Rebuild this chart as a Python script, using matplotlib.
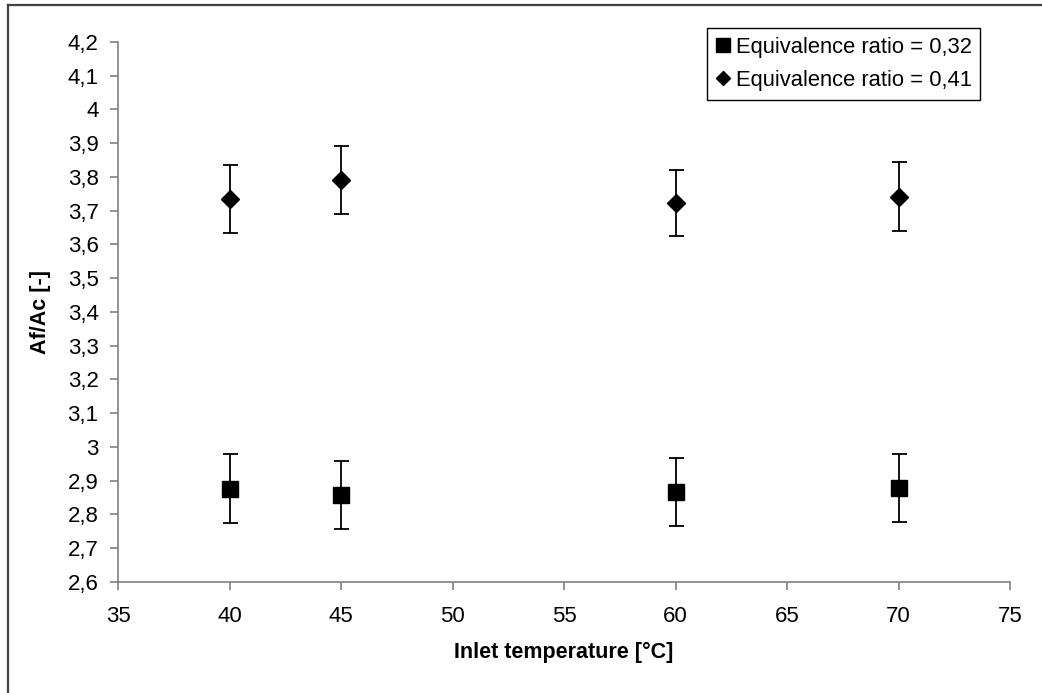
import numpy as np
import matplotlib
matplotlib.use('Agg')
import matplotlib.pyplot as plt
import matplotlib.ticker as mticker
from matplotlib.lines import Line2D

plt.rcParams['font.family'] = ['Liberation Sans', 'DejaVu Sans']

# data
temps = [40, 45, 60, 70]
ratio_032 = [2.877, 2.857, 2.866, 2.878]
err_032 = [0.101, 0.101, 0.101, 0.101]
ratio_041 = [3.735, 3.790, 3.723, 3.742]
err_041 = [0.101, 0.101, 0.099, 0.101]
labels = ['Equivalence ratio = 0,32', 'Equivalence ratio = 0,41']

fig = plt.figure(figsize=(10.42, 6.93), dpi=100)
ax = fig.add_axes([118 / 1042, 1 - 582 / 693, (1010 - 118) / 1042, (582 - 42) / 693])

# outer frame (only top and left edges visible)
fig.add_artist(Line2D([8 / 1042, 8 / 1042], [0, 1 - 5 / 693], transform=fig.transFigure,
                      color='#404040', lw=1.6))
fig.add_artist(Line2D([8 / 1042, 1], [1 - 5 / 693, 1 - 5 / 693], transform=fig.transFigure,
                      color='#404040', lw=1.6))

ax.errorbar(temps, ratio_032, yerr=err_032, fmt='none', ecolor='black',
            elinewidth=1.3, capsize=5.4, capthick=1.3)
ax.errorbar(temps, ratio_041, yerr=err_041, fmt='none', ecolor='black',
            elinewidth=1.3, capsize=5.4, capthick=1.3)
ax.plot(temps, ratio_032, 's', color='black', markersize=12, label=labels[0], zorder=3)
ax.plot(temps, ratio_041, 'D', color='black', markersize=9.5, label=labels[1], zorder=3)

ax.set_xlim(35, 75)
ax.set_ylim(2.6, 4.2)
ax.set_xticks(np.arange(35, 76, 5))
ax.set_yticks(np.arange(2.6, 4.2001, 0.1))
fmt = mticker.FuncFormatter(lambda v, p: f'{round(v, 1):g}'.replace('.', ','))
ax.xaxis.set_major_formatter(fmt)
ax.yaxis.set_major_formatter(fmt)

for s in ['top', 'right']:
    ax.spines[s].set_visible(False)
for s in ['left', 'bottom']:
    ax.spines[s].set_color('#808080')
    ax.spines[s].set_linewidth(1.2)

ax.tick_params(axis='both', direction='out', length=6, width=1.2, color='#808080',
               labelsize=16, labelcolor='black')
ax.tick_params(axis='y', pad=8)
ax.tick_params(axis='x', pad=11)

ax.set_xlabel('Inlet temperature [°C]', fontsize=15.5, fontweight='bold', labelpad=11)
ax.set_ylabel('Af/Ac [-]', fontsize=15.5, fontweight='bold', labelpad=12)

leg = ax.legend(loc='upper left', bbox_to_anchor=(707 / 1042, 1 - 28 / 693),
                bbox_transform=fig.transFigure, borderaxespad=0, fontsize=15.8,
                frameon=True, fancybox=False, shadow=False, framealpha=1,
                edgecolor='black', markerscale=0.8, handlelength=0.7,
                handletextpad=0.2, borderpad=0.4, labelspacing=0.55)
leg.get_frame().set_linewidth(1.0)

fig.savefig('out.png', dpi=100)
